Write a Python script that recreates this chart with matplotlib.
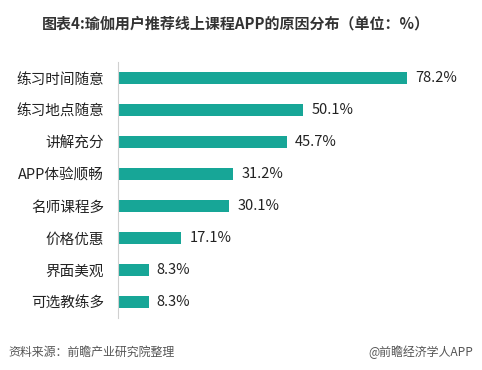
import matplotlib.pyplot as plt

plt.rcParams['font.family'] = ['Noto Sans CJK SC', 'DejaVu Sans']

categories = ["练习时间随意", "练习地点随意", "讲解充分", "APP体验顺畅",
              "名师课程多", "价格优惠", "界面美观", "可选教练多"]
values = [78.2, 50.1, 45.7, 31.2, 30.1, 17.1, 8.3, 8.3]

fig = plt.figure(figsize=(4.82, 3.70), dpi=100)
ax = fig.add_axes([118 / 482, 1 - 318 / 370, (470 - 118) / 482, (318 - 62) / 370])

ypos = list(range(len(categories)))
ax.barh(ypos, values, height=0.4, color="#17a697")
ax.set_ylim(len(categories) - 0.5, -0.5)
ax.set_xlim(0, 352 / 3.7)

for y, v in zip(ypos, values):
    ax.text(v + 2.2, y, f"{v}%", va="center", ha="left", fontsize=10.5, color="#222222")

ax.set_yticks(ypos)
ax.set_yticklabels(categories, fontsize=10.5, color="#222222")
ax.tick_params(axis="y", length=0, pad=10)
ax.set_xticks([])
for s in ["top", "right", "bottom"]:
    ax.spines[s].set_visible(False)
ax.spines["left"].set_color("#d0d0d0")
ax.spines["left"].set_linewidth(0.8)

fig.text(0.49, 1 - 24 / 370, "图表4:瑜伽用户推荐线上课程APP的原因分布（单位：%）",
         ha="center", va="center", fontsize=10.8, fontweight="bold", color="#333333")
fig.text(8 / 482, 1 - 352 / 370, "资料来源：前瞻产业研究院整理",
         ha="left", va="center", fontsize=8.6, color="#555555", style="italic")
fig.text(473 / 482, 1 - 352 / 370, "@前瞻经济学人APP",
         ha="right", va="center", fontsize=8.6, color="#555555")

fig.savefig("out.png", dpi=100)
